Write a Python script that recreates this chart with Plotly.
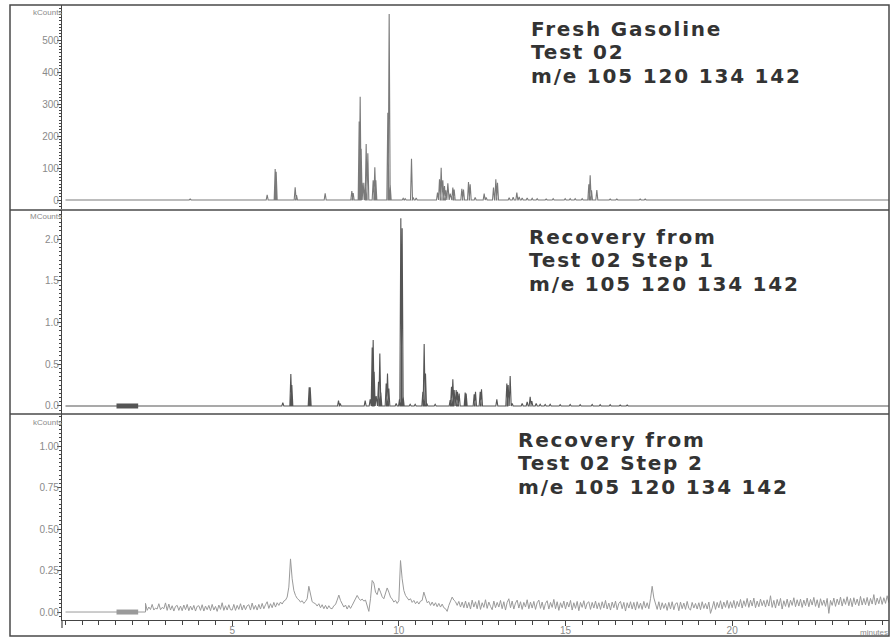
import plotly.graph_objects as go

# ---------------- data ----------------
run_start, run_end = 0.0, 24.7          # minutes

# Panel 1 : Fresh Gasoline  (kCounts)
rt_fresh = [3.74, 6.05, 6.29, 6.32, 6.89, 6.93, 7.79, 8.59, 8.63, 8.81, 8.84, 8.87,
            8.93, 8.99, 9.02, 9.07, 9.23, 9.28, 9.31, 9.67, 9.71, 9.74, 10.13, 10.19,
            10.38, 10.43, 10.52, 11.16, 11.22, 11.27, 11.32, 11.37, 11.41, 11.47,
            11.54, 11.62, 11.66, 11.89, 11.94, 12.09, 12.14, 12.29, 12.56, 12.62,
            12.84, 12.91, 12.96, 13.31, 13.43, 13.54, 13.61, 13.70, 13.85, 14.00,
            14.15, 14.42, 14.63, 14.99, 15.14, 15.29, 15.50, 15.70, 15.74, 15.78,
            15.94, 16.34, 16.54, 17.24, 17.39]
h_fresh = [3, 16, 97, 88, 40, 15, 21, 28, 22, 245, 323, 160,
           54, 54, 175, 146, 62, 102, 62, 273, 581, 47, 5, 4,
           129, 8, 6, 23, 65, 101, 62, 44, 30, 52,
           20, 39, 33, 35, 33, 56, 49, 8, 20, 8,
           39, 65, 54, 7, 9, 23, 10, 6, 6, 5,
           4, 3, 4, 4, 4, 4, 4, 49, 77, 30,
           31, 3, 3, 3, 3]

# Panel 2 : Recovery Step 1  (MCounts)
rt_step1 = [4.34, 6.52, 6.76, 6.79, 7.31, 7.34, 8.19, 8.24, 8.99, 9.14, 9.20, 9.23,
            9.26, 9.32, 9.39, 9.43, 9.46, 9.62, 9.66, 9.70, 9.92, 10.02, 10.06, 10.10,
            10.13, 10.34, 10.49, 10.72, 10.76, 10.80, 10.84, 11.09, 11.54, 11.58,
            11.62, 11.66, 11.72, 11.76, 11.81, 11.99, 12.02, 12.26, 12.30, 12.44,
            12.48, 12.94, 13.24, 13.28, 13.34, 13.40, 13.70, 13.85, 13.94, 13.99,
            14.12, 14.24, 14.39, 14.54, 14.84, 15.14, 15.44, 15.80, 16.04, 16.34,
            16.64, 16.85]
h_step1 = [0.008, 0.04, 0.384, 0.25, 0.224, 0.224, 0.064, 0.03, 0.064, 0.08, 0.70, 0.79,
           0.41, 0.12, 0.29, 0.63, 0.16, 0.27, 0.39, 0.21, 0.03, 0.08, 2.25, 2.13,
           0.11, 0.02, 0.02, 0.17, 0.744, 0.39, 0.03, 0.02, 0.07, 0.23,
           0.32, 0.19, 0.19, 0.17, 0.15, 0.16, 0.15, 0.14, 0.17, 0.17,
           0.20, 0.08, 0.27, 0.25, 0.36, 0.03, 0.03, 0.05, 0.11, 0.06,
           0.03, 0.02, 0.018, 0.02, 0.015, 0.018, 0.015, 0.018, 0.015, 0.015,
           0.012, 0.012]

# Panel 3 : Recovery Step 2  (kCounts), detector scans every 0.05 min from 2.40 min
scan_start, scan_step = 2.40, 0.05
i_step2 = [
    # 2.40 - 2.95
    0.052, 0.010, 0.030, 0.015, 0.046, 0.012, 0.024, 0.018, 0.050, 0.014, 0.028, 0.020,
    # 3
    0.055, 0.010, 0.048, 0.012, 0.038, 0.006, 0.034, 0.040, 0.010, 0.036,
    0.008, 0.042, 0.014, 0.046, 0.008, 0.036, 0.012, 0.040, 0.006, 0.034,
    # 4
    0.038, 0.010, 0.044, 0.006, 0.036, 0.014, 0.040, 0.008, 0.046, 0.012,
    0.034, 0.004, 0.042, 0.016, 0.056, 0.010, 0.038, 0.012, 0.044, 0.014,
    # 5
    0.012, 0.046, 0.010, 0.040, 0.016, 0.050, 0.012, 0.042, 0.014, 0.038,
    0.044, 0.012, 0.054, 0.016, 0.040, 0.012, 0.046, 0.018, 0.052, 0.020,
    # 6
    0.044, 0.062, 0.022, 0.050, 0.026, 0.058, 0.030, 0.056, 0.040, 0.060,
    0.048, 0.066, 0.072, 0.090, 0.150, 0.320, 0.200, 0.130, 0.100, 0.082,
    # 7
    0.074, 0.060, 0.068, 0.052, 0.064, 0.080, 0.155, 0.100, 0.062, 0.055,
    0.050, 0.036, 0.050, 0.026, 0.044, 0.020, 0.040, 0.018, 0.038, 0.022,
    # 8
    0.020, 0.038, 0.045, 0.072, 0.102, 0.070, 0.052, 0.030, 0.042, 0.018,
    0.040, 0.022, 0.040, 0.058, 0.085, 0.100, 0.082, 0.070, 0.078, 0.066,
    # 9
    0.072, 0.040, 0.004, 0.080, 0.190, 0.175, 0.120, 0.105, 0.145, 0.120,
    0.092, 0.080, 0.110, 0.145, 0.120, 0.090, 0.078, 0.060, 0.070, 0.052,
    # 10
    0.068, 0.310, 0.200, 0.130, 0.100, 0.085, 0.072, 0.080, 0.058, 0.070,
    0.050, 0.064, 0.048, 0.066, 0.070, 0.120, 0.085, 0.056, 0.064, 0.040,
    # 11
    0.060, 0.038, 0.056, 0.032, 0.052, 0.030, 0.048, 0.026, 0.020, 0.004,
    0.040, 0.060, 0.090, 0.072, 0.062, 0.040, 0.064, 0.030, 0.060, 0.026,
    # 12
    0.066, 0.024, 0.058, 0.018, 0.072, 0.030, 0.062, 0.020, 0.070, 0.016,
    0.056, 0.028, 0.074, 0.022, 0.060, 0.034, 0.014, 0.066, 0.026, 0.058,
    # 13
    0.030, 0.070, 0.020, 0.062, 0.012, 0.058, 0.080, 0.026, 0.066, 0.018,
    0.054, 0.072, 0.024, 0.062, 0.016, 0.058, 0.030, 0.074, 0.020, 0.060,
    # 14
    0.024, 0.064, 0.016, 0.056, 0.072, 0.022, 0.060, 0.014, 0.052, 0.068,
    0.018, 0.058, 0.028, 0.076, 0.020, 0.062, 0.010, 0.056, 0.026, 0.066,
    # 15
    0.018, 0.060, 0.030, 0.070, 0.012, 0.056, 0.022, 0.064, 0.008, 0.058,
    0.028, 0.068, 0.018, 0.054, 0.062, 0.016, 0.058, 0.024, 0.066, 0.020,
    # 16
    0.056, 0.016, 0.062, 0.024, 0.070, 0.018, 0.054, 0.012, 0.060, 0.026,
    0.066, 0.014, 0.052, 0.064, 0.020, 0.058, 0.006, 0.056, 0.024, 0.062,
    # 17
    0.018, 0.058, 0.012, 0.062, 0.022, 0.054, 0.016, 0.064, 0.024, 0.056,
    0.020, 0.080, 0.155, 0.085, 0.050, 0.016, 0.062, 0.014, 0.056, 0.022,
    # 18
    0.052, 0.010, 0.058, 0.018, 0.062, 0.014, 0.050, 0.056, 0.008, 0.060,
    0.020, 0.054, 0.016, 0.064, 0.022, 0.012, 0.058, 0.024, 0.052, 0.018,
    # 19
    0.056, 0.014, 0.062, 0.022, 0.052, 0.018, 0.060, -0.008, 0.024, 0.064,
    0.016, 0.058, 0.026, 0.068, 0.018, 0.060, 0.028, 0.070, 0.022, 0.062,
    # 20
    0.026, 0.070, 0.022, 0.064, 0.032, 0.076, 0.024, 0.068, 0.034, 0.082,
    0.028, 0.072, 0.036, 0.084, 0.026, 0.066, 0.032, 0.078, 0.038, 0.070,
    # 21
    0.030, 0.074, 0.036, 0.098, 0.028, 0.070, 0.024, 0.076, 0.038, 0.082,
    0.018, 0.068, 0.034, 0.078, 0.028, 0.072, 0.040, 0.086, 0.032, 0.074,
    # 22
    0.036, 0.078, 0.028, 0.072, 0.038, 0.084, 0.032, 0.076, 0.042, 0.088,
    0.034, 0.074, 0.026, 0.080, 0.040, 0.072, 0.034, 0.082, -0.008, 0.070,
    # 23
    0.040, 0.084, 0.034, 0.078, 0.044, 0.090, 0.036, 0.080, 0.046, 0.092,
    0.038, 0.082, 0.032, 0.086, 0.044, 0.078, 0.038, 0.094, 0.042, 0.082,
    # 24.00 - 24.70
    0.044, 0.088, 0.038, 0.082, 0.048, 0.105, 0.042, 0.084, 0.050, 0.092,
    0.046, 0.086, 0.052, 0.098, 0.056,
]

# highlighted segment on the baseline (minutes)
bar_span = [1.53, 2.18]

# axis ticks
y1_ticks, y1_text = [0, 100, 200, 300, 400, 500], ["0", "100", "200", "300", "400", "500"]
y2_ticks, y2_text = [0, 0.5, 1.0, 1.5, 2.0], ["0.0", "0.5", "1.0", "1.5", "2.0"]
y3_ticks, y3_text = [0, 0.25, 0.5, 0.75, 1.0], ["0.00", "0.25", "0.50", "0.75", "1.00"]
x_ticks, x_text = [5, 10, 15, 20], ["5", "10", "15", "20"]

titles = [
    ["Fresh Gasoline", "Test 02", "m/e 105 120 134 142"],
    ["Recovery from", "Test 02 Step 1", "m/e 105 120 134 142"],
    ["Recovery from", "Test 02 Step 2", "m/e 105 120 134 142"],
]

# ---------------- helpers ----------------
W, H = 891, 637
def fx(p): return p / W
def fy(p): return 1 - p / H

def stick(rts, hts, w=0.03):
    xs, ys = [run_start], [0.0]
    for t, h in sorted(zip(rts, hts)):
        xs += [t - w, t, t + w]
        ys += [0.0, h, 0.0]
    xs.append(run_end); ys.append(0.0)
    return xs, ys

fig = go.Figure()

x1, y1 = stick(rt_fresh, h_fresh)
fig.add_trace(go.Scatter(x=x1, y=y1, mode="lines", line=dict(color="#7a7a7a", width=1.1),
                         xaxis="x", yaxis="y", hoverinfo="skip"))

x2, y2 = stick(rt_step1, h_step1)
fig.add_trace(go.Scatter(x=x2, y=y2, mode="lines", line=dict(color="#555555", width=1.1),
                         xaxis="x2", yaxis="y2", hoverinfo="skip"))
fig.add_trace(go.Scatter(x=bar_span, y=[0, 0], mode="lines", line=dict(color="#555555", width=5),
                         xaxis="x2", yaxis="y2", hoverinfo="skip"))

t3 = [run_start, scan_start] + [round(scan_start + k * scan_step, 3) for k in range(len(i_step2))]
v3 = [0.0, 0.0] + i_step2
fig.add_trace(go.Scatter(x=t3, y=v3, mode="lines", line=dict(color="#9a9a9a", width=1.0),
                         xaxis="x3", yaxis="y3", hoverinfo="skip"))
fig.add_trace(go.Scatter(x=bar_span, y=[0, 0], mode="lines", line=dict(color="#9a9a9a", width=5),
                         xaxis="x3", yaxis="y3", hoverinfo="skip"))

xrange = [-0.105, 24.705]
xdom = [fx(62), fx(889)]
axcol = "#444444"
lblfont = dict(family="Liberation Sans, Arial, sans-serif", size=10, color="#8a8a8a")

def yax(dom, rng, tv, tt, minor_dt, anchor):
    return dict(domain=dom, range=rng, anchor=anchor, tickvals=tv, ticktext=tt,
                showline=True, linecolor=axcol, linewidth=1.2, ticks="outside",
                ticklen=4, tickcolor=axcol, tickwidth=1, tickfont=lblfont,
                ticklabelstandoff=-4,
                minor=dict(dtick=minor_dt, ticks="outside", ticklen=2, tickcolor=axcol,
                           tickwidth=1, showgrid=False),
                showgrid=False, zeroline=False, fixedrange=True)

fig.update_layout(
    width=W, height=H, autosize=False,
    margin=dict(l=0, r=0, t=0, b=0),
    paper_bgcolor="white", plot_bgcolor="white",
    showlegend=False,
    xaxis=dict(domain=xdom, range=xrange, anchor="y", visible=False),
    xaxis2=dict(domain=xdom, range=xrange, anchor="y2", visible=False),
    xaxis3=dict(domain=xdom, range=xrange, anchor="y3", tickvals=x_ticks, ticktext=x_text,
                showline=True, linecolor=axcol, linewidth=1.2, ticks="outside",
                ticklen=5, tickcolor=axcol, tickfont=lblfont, ticklabelstandoff=-4,
                minor=dict(dtick=0.5, tick0=0, ticks="outside", ticklen=4,
                           tickcolor=axcol, showgrid=False),
                showgrid=False, zeroline=False),
    yaxis=yax([fy(209), fy(5)], [-28.1, 609.4], y1_ticks, y1_text, 10, "x"),
    yaxis2=yax([fy(414), fy(210)], [-0.096, 2.350], y2_ticks, y2_text, 0.05, "x2"),
    yaxis3=yax([fy(620), fy(414)], [-0.048, 1.193], y3_ticks, y3_text, 0.025, "x3"),
)

anns = []
unit_font = dict(family="Liberation Sans, Arial, sans-serif", size=8, color="#8a8a8a")
for txt, py in [("kCounts", 12), ("MCounts", 216), ("kCounts", 422)]:
    anns.append(dict(text=txt, x=fx(64), y=fy(py), xref="paper", yref="paper",
                     xanchor="right", yanchor="middle", showarrow=False, font=unit_font))
anns.append(dict(text="minutes", x=fx(890), y=fy(632), xref="paper", yref="paper",
                 xanchor="right", yanchor="middle", showarrow=False, font=unit_font))

# one text block per panel: base size sets the line pitch (1.3 x 18 = 23.4 px),
# glyphs drawn at 20 px with a little tracking to reach the reference's wide lettering
title_font = dict(family="DejaVu Sans", size=18, color="#333333", weight="bold")
title_pos = [(530, 53), (528, 260), (517, 463)]
for lines, (px, pymid) in zip(titles, title_pos):
    block = "<br>".join('<span style="font-size:20px;letter-spacing:1.8px">%s</span>' % ln
                        for ln in lines)
    anns.append(dict(text=block, x=fx(px), y=fy(pymid), xref="paper", yref="paper",
                     xanchor="left", yanchor="middle", align="left", showarrow=False,
                     borderpad=0, font=title_font))
fig.update_layout(annotations=anns)

frame = "#4a4a4a"
shapes = [
    dict(type="rect", xref="paper", yref="paper", x0=fx(10), x1=fx(889), y0=fy(636), y1=fy(5),
         line=dict(color=frame, width=1.5)),
    dict(type="line", xref="paper", yref="paper", x0=fx(10), x1=fx(889), y0=fy(210), y1=fy(210),
         line=dict(color=frame, width=1.5)),
    dict(type="line", xref="paper", yref="paper", x0=fx(10), x1=fx(889), y0=fy(414), y1=fy(414),
         line=dict(color=frame, width=1.5)),
    dict(type="line", xref="paper", yref="paper", x0=fx(62), x1=fx(62), y0=fy(628), y1=fy(620),
         line=dict(color=axcol, width=1.2)),
]
fig.update_layout(shapes=shapes)

fig.write_html("out.html", config={"displayModeBar": False},
               post_script="document.body.style.margin='0px';document.body.style.overflow='hidden';")
